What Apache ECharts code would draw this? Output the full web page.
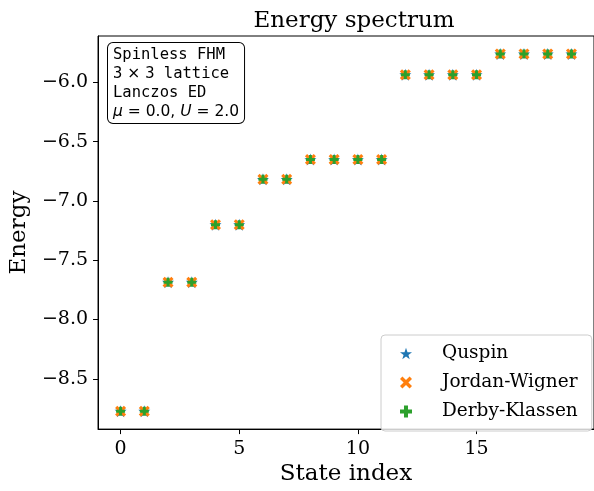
<!DOCTYPE html>
<html>
<head>
<meta charset="utf-8">
<title>Energy spectrum</title>
<script src="https://cdn.jsdelivr.net/npm/echarts@6/dist/echarts.min.js"></script>
<style>
  html, body { margin: 0; padding: 0; background: #fff; }
  #chart { width: 594px; height: 491px; }
</style>
</head>
<body>
<div id="chart"></div>
<script>
  // values
  const stateIndex = [0, 1, 2, 3, 4, 5, 6, 7, 8, 9, 10, 11, 12, 13, 14, 15, 16, 17, 18, 19];
  const energyQuspin = [-8.773, -8.773, -7.686, -7.686, -7.200, -7.200, -6.818, -6.818, -6.651, -6.651,
    -6.651, -6.651, -5.936, -5.936, -5.936, -5.936, -5.760, -5.760, -5.760, -5.760];
  const energyJW = [-8.773, -8.773, -7.686, -7.686, -7.200, -7.200, -6.818, -6.818, -6.651, -6.651,
    -6.651, -6.651, -5.936, -5.936, -5.936, -5.936, -5.760, -5.760, -5.760, -5.760];
  const energyDK = [-8.773, -8.773, -7.686, -7.686, -7.200, -7.200, -6.818, -6.818, -6.651, -6.651,
    -6.651, -6.651, -5.936, -5.936, -5.936, -5.936, -5.760, -5.760, -5.760, -5.760];
  const xTicks = [0, 5, 10, 15];
  const yTicks = [-8.5, -8.0, -7.5, -7.0, -6.5, -6.0];
  const seriesNames = ['Quspin', 'Jordan-Wigner', 'Derby-Klassen'];

  const serif = 'DejaVu Serif';
  const starPath = 'path://M50,0 L61.8,35.3 L97.6,34.5 L69.1,57.2 L79.4,90.5 L50,70 L20.6,90.5 L30.9,57.2 L2.4,34.5 L38.2,35.3 Z';
  const xPath = 'path://M0,2 L2,0 L5,3 L8,0 L10,2 L7,5 L10,8 L8,10 L5,7 L2,10 L0,8 L3,5 Z';
  const plusPath = 'path://M3.33,0 H6.67 V3.33 H10 V6.67 H6.67 V10 H3.33 V6.67 H0 V3.33 H3.33 Z';

  function pairs(ys) {
    return stateIndex.map((x, i) => [x, ys[i]]);
  }

  const chart = echarts.init(document.getElementById('chart'));
  const option = {
    animation: false,
    title: {
      text: 'Energy spectrum',
      left: 349,
      top: 5,
      textAlign: 'center',
      textStyle: { fontFamily: serif, fontSize: 23, fontWeight: 'normal', color: '#000' }
    },
    grid: {
      left: 97, top: 36, width: 502, height: 398,
      show: true, borderColor: '#000', borderWidth: 1, backgroundColor: 'transparent'
    },
    legend: {
      orient: 'vertical',
      left: 381,
      top: 335,
      padding: [9, 14, 10, 19],
      itemGap: 10,
      itemWidth: 12,
      itemHeight: 12,
      backgroundColor: 'rgba(255,255,255,0.8)',
      borderColor: '#cccccc',
      borderWidth: 1,
      borderRadius: 4,
      data: seriesNames,
      textStyle: { fontFamily: serif, fontSize: 18.5, lineHeight: 18, color: '#000', padding: [0, 0, 0, 25] }
    },
    xAxis: {
      type: 'value',
      min: -0.95,
      max: 19.95,
      name: 'State index',
      nameLocation: 'middle',
      nameGap: 32,
      nameTextStyle: { fontFamily: serif, fontSize: 23, color: '#000' },
      axisLine: { show: true, onZero: false, lineStyle: { color: '#000', width: 1 } },
      axisTick: { show: true, length: 5, customValues: xTicks, lineStyle: { color: '#000' } },
      axisLabel: { customValues: xTicks, margin: 10, fontFamily: serif, fontSize: 19, color: '#000' },
      splitLine: { show: false }
    },
    yAxis: {
      type: 'value',
      min: -8.924,
      max: -5.609,
      name: 'Energy',
      nameLocation: 'middle',
      nameGap: 65,
      nameTextStyle: { fontFamily: serif, fontSize: 23, color: '#000' },
      axisLine: { show: true, onZero: false, lineStyle: { color: '#000', width: 1 } },
      axisTick: { show: true, length: 5, customValues: yTicks, lineStyle: { color: '#000' } },
      axisLabel: {
        customValues: yTicks, margin: 10, fontFamily: serif, fontSize: 19, color: '#000',
        formatter: v => v.toFixed(1).replace('-', '\u2212')
      },
      splitLine: { show: false }
    },
    graphic: [{
      type: 'text',
      left: 107,
      top: 42,
      z: 10,
      style: {
        text: '{m|Spinless FHM}\n{m|3}{s| \u00d7 }{m|3 lattice}\n{m|Lanczos ED}\n{i|\u03bc}{s| = 0.0, }{i|U}{s| = 2.0}',
        backgroundColor: '#fff',
        borderColor: '#000',
        borderWidth: 1,
        borderRadius: 5,
        padding: [2, 5, 2, 5],
        rich: {
          m: { fontFamily: 'DejaVu Sans Mono', fontSize: 15.5, lineHeight: 19, color: '#000' },
          s: { fontFamily: 'DejaVu Sans', fontSize: 15.5, lineHeight: 19, color: '#000' },
          i: { fontFamily: 'DejaVu Sans', fontStyle: 'italic', fontSize: 15.5, lineHeight: 19, color: '#000' }
        }
      }
    }],
    series: [
      {
        name: 'Quspin', type: 'scatter', data: pairs(energyQuspin),
        symbol: starPath, symbolSize: 12, itemStyle: { color: '#1f77b4', opacity: 1 }
      },
      {
        name: 'Jordan-Wigner', type: 'scatter', data: pairs(energyJW),
        symbol: xPath, symbolSize: 11, itemStyle: { color: '#ff7f0e', opacity: 1 }
      },
      {
        name: 'Derby-Klassen', type: 'scatter', data: pairs(energyDK),
        symbol: plusPath, symbolSize: 9, itemStyle: { color: '#2ca02c', opacity: 1 }
      }
    ]
  };
  chart.setOption(option);
</script>
</body>
</html>
